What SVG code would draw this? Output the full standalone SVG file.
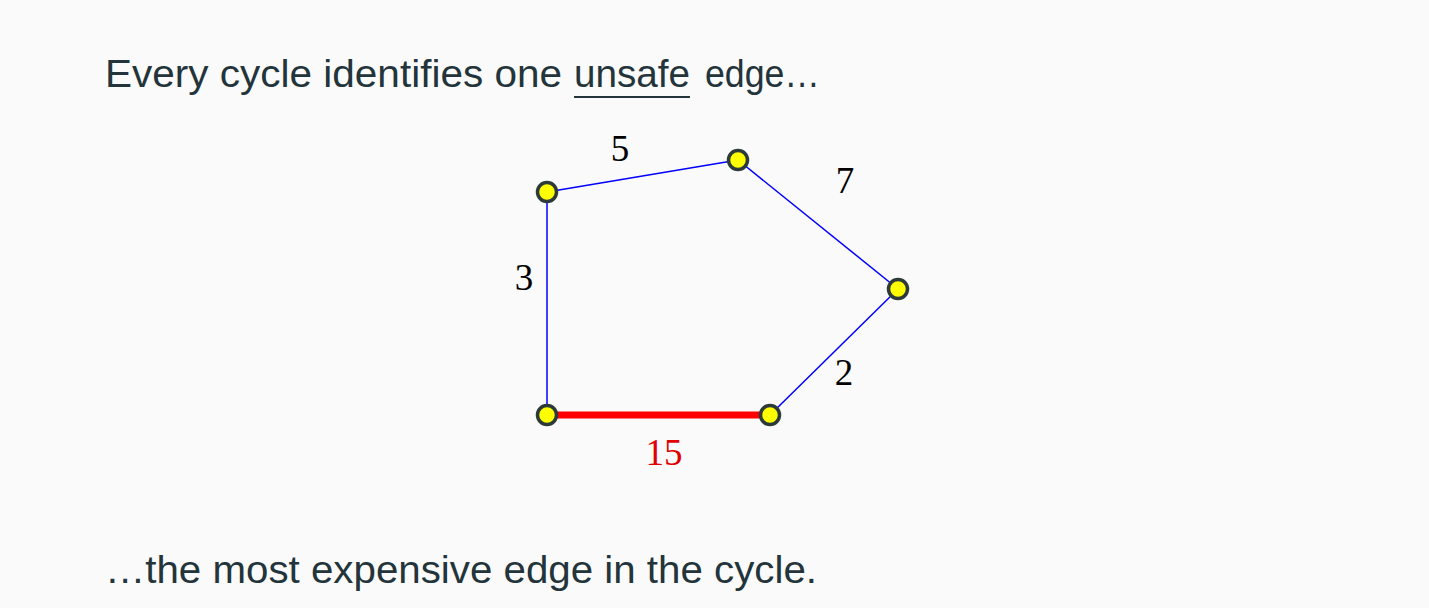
<svg xmlns="http://www.w3.org/2000/svg" width="1429" height="608" viewBox="0 0 1429 608">
<style>
.t{font-family:"Liberation Sans",Arial,sans-serif;font-size:38px;fill:#23343a}
.lbl{font-family:"Liberation Serif","Times New Roman",serif;font-size:37px;fill:#000}
.e{stroke:#0000ff;stroke-width:1.5;fill:none}
.n{fill:#ffff00;stroke:#2d3a3a;stroke-width:3.5}
</style>
<rect width="1429" height="608" fill="#fafafa"/>
<text class="t" x="105" y="87" textLength="457" lengthAdjust="spacingAndGlyphs">Every cycle identifies one</text>
<text class="t" x="574" y="87" textLength="116" lengthAdjust="spacingAndGlyphs">unsafe</text>
<text class="t" x="705" y="87" textLength="115" lengthAdjust="spacingAndGlyphs">edge…</text>
<line x1="574" y1="97" x2="690" y2="97" stroke="#23343a" stroke-width="1.8"/>
<text class="t" x="105" y="583" textLength="712" lengthAdjust="spacingAndGlyphs">…the most expensive edge in the cycle.</text>
<g id="connectors">
<line class="e" x1="547" y1="192" x2="738" y2="160"/>
<line class="e" x1="738" y1="160" x2="898" y2="289"/>
<line class="e" x1="898" y1="289" x2="770" y2="415"/>
<line class="e" x1="547" y1="192" x2="547" y2="415"/>
<line x1="547" y1="415" x2="770" y2="415" stroke="#ff0000" stroke-width="7"/>
<text class="lbl" x="620" y="161" text-anchor="middle">5</text>
<text class="lbl" x="845" y="193" text-anchor="middle">7</text>
<text class="lbl" x="524" y="290" text-anchor="middle">3</text>
<text class="lbl" x="844" y="385" text-anchor="middle">2</text>
<text class="lbl" x="664" y="465" text-anchor="middle" style="fill:#e00000">15</text>
</g>
<g id="n1"><circle class="n" cx="547" cy="192" r="9.5"/></g>
<g id="n2"><circle class="n" cx="738" cy="160" r="9.5"/></g>
<g id="n3"><circle class="n" cx="898" cy="289" r="9.5"/></g>
<g id="n4"><circle class="n" cx="770" cy="415" r="9.5"/></g>
<g id="n5"><circle class="n" cx="547" cy="415" r="9.5"/></g>
</svg>
